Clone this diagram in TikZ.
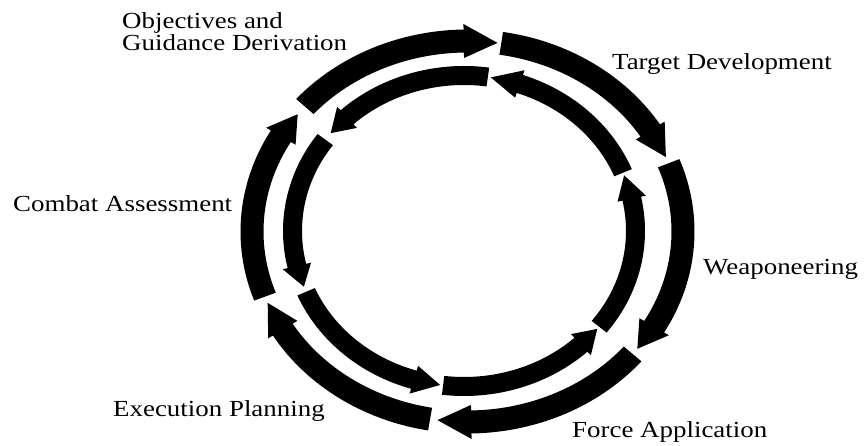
\documentclass[tikz,border=0pt]{standalone}
\usepackage{fontspec}
\setmainfont{Liberation Serif}
\usepackage{graphicx}
% #1 rx, #2 ry, #3 half width, #4 head half width, #5 start angle, #6 head base angle, #7 tip angle
\newcommand{\ringarrow}[7]{%
  \fill ({#5}:{#1+#3} and {#2+#3})
    arc[start angle={#5}, end angle={#6}, x radius={#1+#3}, y radius={#2+#3}]
    -- ({#6}:{#1+#4} and {#2+#4})
    -- ({#7}:{#1} and {#2})
    -- ({#6}:{#1-#4} and {#2-#4})
    -- ({#6}:{#1-#3} and {#2-#3})
    arc[start angle={#6}, end angle={#5}, x radius={#1-#3}, y radius={#2-#3}]
    -- cycle;}
\newcommand{\outerarrow}[3]{\ringarrow{215.5}{190.5}{11.5}{17}{#1}{#2}{#3}}
\newcommand{\innerarrow}[3]{\ringarrow{171.5}{155.5}{9.5}{14.5}{#1}{#2}{#3}}
\newcommand{\wide}[1]{\scalebox{1.17}[1]{#1}}
\begin{document}
\begin{tikzpicture}[x=1pt,y=1pt,
  lbl/.style={anchor=base west, inner sep=0pt, font=\fontsize{23}{20}\selectfont}]
\useasboundingbox (0,0) rectangle (865,446);
% outer ring, clockwise
\begin{scope}[shift={(467.5,214.5)}]
  \outerarrow{139}{91}{82}
  \outerarrow{81}{32}{23}
  \outerarrow{21}{-30}{-38}
  \outerarrow{-40}{-89}{-98}
  \outerarrow{-100}{-149}{-158}
  \outerarrow{-160}{-210}{-218}
\end{scope}
% inner ring, counter-clockwise
\begin{scope}[shift={(464,215)}]
  \innerarrow{82}{133}{141}
  \innerarrow{22}{71}{81}
  \innerarrow{-38}{12}{21}
  \innerarrow{-97}{-47}{-39}
  \innerarrow{-157}{-107}{-98}
  \innerarrow{144}{193}{201}
\end{scope}
% labels
\node[lbl] (obj1) at (122,417) {\wide{Objectives and}};
\node[lbl] (obj2) at (122,395) {\wide{Guidance Derivation}};
\node[lbl] (tgt) at (612,376) {\wide{Target Development}};
\node[lbl] (cbt) at (13,234.3) {\wide{Combat Assessment}};
\node[lbl] (wpn) at (703,171) {\wide{Weaponeering}};
\node[lbl] (exe) at (113,29.3) {\wide{Execution Planning}};
\node[lbl] (frc) at (572,8) {\wide{Force Application}};
\end{tikzpicture}
\end{document}
